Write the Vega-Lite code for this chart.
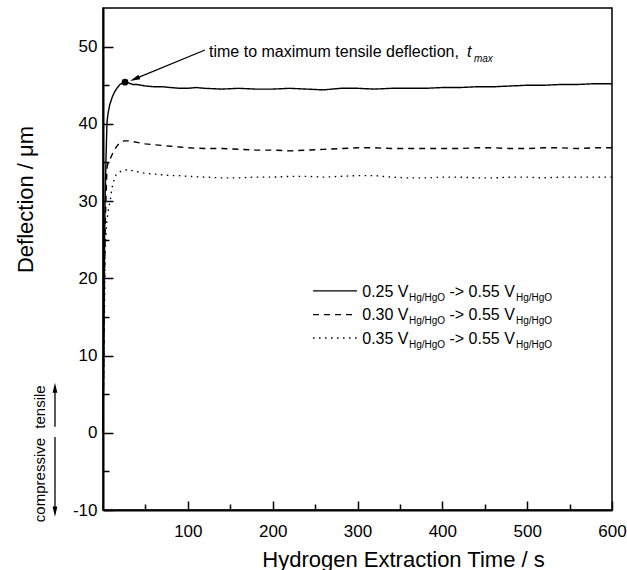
{
  "$schema": "https://vega.github.io/schema/vega-lite/v6.json",
  "width": 509,
  "height": 502,
  "autosize": {"type": "none"},
  "padding": {"left": 103, "top": 8, "right": 15, "bottom": 60},
  "background": "white",
  "config": {
    "view": {"stroke": "black", "strokeWidth": 1.5},
    "font": "Liberation Sans",
    "axis": {"grid": false, "domainColor": "black", "tickColor": "black", "labelColor": "black", "titleColor": "black", "labelFont": "Liberation Sans", "titleFont": "Liberation Sans"}
  },
  "datasets": {
    "curves": [
      {"series": "0.25", "t": 0, "v": 0}, {"series": "0.25", "t": 1, "v": 13}, {"series": "0.25", "t": 2, "v": 26}, {"series": "0.25", "t": 2.5, "v": 30.2}, {"series": "0.25", "t": 3.5, "v": 35.4}, {"series": "0.25", "t": 4.7, "v": 40.2}, {"series": "0.25", "t": 6, "v": 41.4}, {"series": "0.25", "t": 8, "v": 42.5}, {"series": "0.25", "t": 11, "v": 43.5}, {"series": "0.25", "t": 14, "v": 44.2}, {"series": "0.25", "t": 17, "v": 44.7}, {"series": "0.25", "t": 20, "v": 45.1}, {"series": "0.25", "t": 23, "v": 45.3}, {"series": "0.25", "t": 26, "v": 45.4}, {"series": "0.25", "t": 30, "v": 45.3}, {"series": "0.25", "t": 35, "v": 45.1}, {"series": "0.25", "t": 40, "v": 45.1}, {"series": "0.25", "t": 45, "v": 45.0}, {"series": "0.25", "t": 50, "v": 44.9}, {"series": "0.25", "t": 60, "v": 44.8}, {"series": "0.25", "t": 70, "v": 44.8}, {"series": "0.25", "t": 80, "v": 44.7}, {"series": "0.25", "t": 90, "v": 44.6}, {"series": "0.25", "t": 100, "v": 44.6}, {"series": "0.25", "t": 110, "v": 44.7}, {"series": "0.25", "t": 120, "v": 44.6}, {"series": "0.25", "t": 140, "v": 44.5}, {"series": "0.25", "t": 160, "v": 44.6}, {"series": "0.25", "t": 180, "v": 44.5}, {"series": "0.25", "t": 200, "v": 44.5}, {"series": "0.25", "t": 220, "v": 44.6}, {"series": "0.25", "t": 240, "v": 44.5}, {"series": "0.25", "t": 260, "v": 44.4}, {"series": "0.25", "t": 280, "v": 44.6}, {"series": "0.25", "t": 300, "v": 44.6}, {"series": "0.25", "t": 320, "v": 44.5}, {"series": "0.25", "t": 340, "v": 44.6}, {"series": "0.25", "t": 360, "v": 44.6}, {"series": "0.25", "t": 380, "v": 44.6}, {"series": "0.25", "t": 400, "v": 44.7}, {"series": "0.25", "t": 420, "v": 44.7}, {"series": "0.25", "t": 440, "v": 44.8}, {"series": "0.25", "t": 460, "v": 44.8}, {"series": "0.25", "t": 480, "v": 44.9}, {"series": "0.25", "t": 500, "v": 45.0}, {"series": "0.25", "t": 520, "v": 45.0}, {"series": "0.25", "t": 540, "v": 45.1}, {"series": "0.25", "t": 560, "v": 45.1}, {"series": "0.25", "t": 580, "v": 45.2}, {"series": "0.25", "t": 600, "v": 45.2},
      {"series": "0.30", "t": 0, "v": 0}, {"series": "0.30", "t": 1, "v": 11}, {"series": "0.30", "t": 2, "v": 22}, {"series": "0.30", "t": 3, "v": 28.5}, {"series": "0.30", "t": 4, "v": 32}, {"series": "0.30", "t": 4.7, "v": 34.3}, {"series": "0.30", "t": 6, "v": 35}, {"series": "0.30", "t": 8.3, "v": 35.4}, {"series": "0.30", "t": 11, "v": 36.1}, {"series": "0.30", "t": 14, "v": 36.7}, {"series": "0.30", "t": 17, "v": 37.2}, {"series": "0.30", "t": 20, "v": 37.6}, {"series": "0.30", "t": 25, "v": 37.8}, {"series": "0.30", "t": 30, "v": 37.8}, {"series": "0.30", "t": 35, "v": 37.7}, {"series": "0.30", "t": 40, "v": 37.6}, {"series": "0.30", "t": 50, "v": 37.4}, {"series": "0.30", "t": 60, "v": 37.3}, {"series": "0.30", "t": 70, "v": 37.2}, {"series": "0.30", "t": 80, "v": 37.1}, {"series": "0.30", "t": 90, "v": 37.0}, {"series": "0.30", "t": 100, "v": 36.9}, {"series": "0.30", "t": 120, "v": 36.8}, {"series": "0.30", "t": 140, "v": 36.8}, {"series": "0.30", "t": 160, "v": 36.7}, {"series": "0.30", "t": 180, "v": 36.6}, {"series": "0.30", "t": 200, "v": 36.6}, {"series": "0.30", "t": 220, "v": 36.5}, {"series": "0.30", "t": 240, "v": 36.6}, {"series": "0.30", "t": 260, "v": 36.7}, {"series": "0.30", "t": 280, "v": 36.8}, {"series": "0.30", "t": 300, "v": 36.9}, {"series": "0.30", "t": 320, "v": 36.9}, {"series": "0.30", "t": 340, "v": 36.8}, {"series": "0.30", "t": 360, "v": 36.8}, {"series": "0.30", "t": 380, "v": 36.8}, {"series": "0.30", "t": 400, "v": 36.8}, {"series": "0.30", "t": 420, "v": 36.8}, {"series": "0.30", "t": 440, "v": 36.9}, {"series": "0.30", "t": 460, "v": 36.9}, {"series": "0.30", "t": 480, "v": 36.8}, {"series": "0.30", "t": 500, "v": 36.8}, {"series": "0.30", "t": 520, "v": 36.9}, {"series": "0.30", "t": 540, "v": 36.9}, {"series": "0.30", "t": 560, "v": 36.8}, {"series": "0.30", "t": 580, "v": 36.9}, {"series": "0.30", "t": 600, "v": 36.9},
      {"series": "0.35", "t": 0, "v": 0}, {"series": "0.35", "t": 1, "v": 9}, {"series": "0.35", "t": 2, "v": 18}, {"series": "0.35", "t": 2.4, "v": 23.3}, {"series": "0.35", "t": 3.5, "v": 25.5}, {"series": "0.35", "t": 4.7, "v": 27.6}, {"series": "0.35", "t": 6.5, "v": 29}, {"series": "0.35", "t": 8.3, "v": 29.9}, {"series": "0.35", "t": 10.6, "v": 31.7}, {"series": "0.35", "t": 14, "v": 33.2}, {"series": "0.35", "t": 17, "v": 33.6}, {"series": "0.35", "t": 20, "v": 33.8}, {"series": "0.35", "t": 25, "v": 34.0}, {"series": "0.35", "t": 30, "v": 34.1}, {"series": "0.35", "t": 35, "v": 33.9}, {"series": "0.35", "t": 40, "v": 33.8}, {"series": "0.35", "t": 50, "v": 33.6}, {"series": "0.35", "t": 60, "v": 33.5}, {"series": "0.35", "t": 70, "v": 33.4}, {"series": "0.35", "t": 80, "v": 33.3}, {"series": "0.35", "t": 90, "v": 33.3}, {"series": "0.35", "t": 100, "v": 33.2}, {"series": "0.35", "t": 120, "v": 33.1}, {"series": "0.35", "t": 140, "v": 33.0}, {"series": "0.35", "t": 160, "v": 33.0}, {"series": "0.35", "t": 180, "v": 33.1}, {"series": "0.35", "t": 200, "v": 33.1}, {"series": "0.35", "t": 220, "v": 33.2}, {"series": "0.35", "t": 240, "v": 33.2}, {"series": "0.35", "t": 260, "v": 33.1}, {"series": "0.35", "t": 280, "v": 33.2}, {"series": "0.35", "t": 300, "v": 33.3}, {"series": "0.35", "t": 320, "v": 33.3}, {"series": "0.35", "t": 340, "v": 33.1}, {"series": "0.35", "t": 360, "v": 33.0}, {"series": "0.35", "t": 380, "v": 33.0}, {"series": "0.35", "t": 400, "v": 33.1}, {"series": "0.35", "t": 420, "v": 33.1}, {"series": "0.35", "t": 440, "v": 33.0}, {"series": "0.35", "t": 460, "v": 33.0}, {"series": "0.35", "t": 480, "v": 33.1}, {"series": "0.35", "t": 500, "v": 33.1}, {"series": "0.35", "t": 520, "v": 33.0}, {"series": "0.35", "t": 540, "v": 33.1}, {"series": "0.35", "t": 560, "v": 33.1}, {"series": "0.35", "t": 580, "v": 33.1}, {"series": "0.35", "t": 600, "v": 33.1}
    ]
  },
  "resolve": {"axis": {"x": "independent", "y": "independent"}},
  "layer": [
    {
      "data": {"name": "curves"},
      "mark": {"type": "line", "color": "black", "strokeWidth": 1.4, "clip": false},
      "encoding": {
        "x": {"field": "t", "type": "quantitative", "scale": {"domain": [0, 600], "nice": false, "zero": false},
          "axis": {"orient": "bottom", "values": [100, 200, 300, 400, 500, 600], "tickSize": -9, "tickWidth": 1.5, "domainWidth": 2, "labelPadding": 22, "labelFontSize": 17, "labelFlush": false, "labelBaseline": "top",
            "title": "Hydrogen Extraction Time / s", "titleFontSize": 22, "titleFontWeight": "normal", "titleX": 300, "titleY": 56, "titleAlign": "center", "titleBaseline": "alphabetic"}},
        "y": {"field": "v", "type": "quantitative", "scale": {"domain": [-10, 55], "nice": false, "zero": false},
          "axis": {"orient": "left", "values": [-10, 0, 10, 20, 30, 40, 50], "tickSize": -10, "tickWidth": 1.5, "domainWidth": 2, "labelPadding": 16, "labelFontSize": 17, "labelExpr": "'' + datum.value",
            "title": "Deflection / μm", "titleFontSize": 22, "titleFontWeight": "normal", "titleX": -78, "titleY": 191, "titleAngle": 270, "titleAlign": "center", "titleBaseline": "middle"}},
        "strokeDash": {"field": "series", "type": "nominal", "scale": {"domain": ["0.25", "0.30", "0.35"], "range": [[1, 0], [6, 5], [1.5, 4.5]]}, "legend": null},
        "order": {"field": "t", "type": "quantitative"}
      }
    },
    {
      "data": {"name": "curves"},
      "transform": [{"filter": "datum.series === '0.25' && datum.t === 26"}],
      "mark": {"type": "point", "filled": true, "color": "black", "opacity": 1, "size": 45},
      "encoding": {
        "x": {"field": "t", "type": "quantitative", "axis": {"orient": "bottom", "values": [50, 150, 250, 350, 450, 550], "labels": false, "domain": false, "tickSize": -6, "tickWidth": 1.5, "title": null}},
        "y": {"field": "v", "type": "quantitative", "axis": {"orient": "left", "values": [-5, 5, 15, 25, 35, 45], "labels": false, "domain": false, "tickSize": -6, "tickWidth": 1.5, "title": null}}
      }
    },
    {
      "data": {"values": [{}]},
      "mark": {"type": "rule", "color": "black", "strokeWidth": 1.3},
      "encoding": {
        "x": {"datum": 120.2, "type": "quantitative", "axis": null}, "y": {"datum": 49.56, "type": "quantitative", "axis": null},
        "x2": {"datum": 38.3}, "y2": {"datum": 45.85}
      }
    },
    {
      "data": {"values": [{}]},
      "mark": {"type": "point", "shape": "M0,-1L0.4,0.7L-0.4,0.7Z", "filled": true, "color": "black", "opacity": 1, "size": 144, "angle": 247.5},
      "encoding": {"x": {"datum": 38.3, "type": "quantitative", "axis": null}, "y": {"datum": 45.85, "type": "quantitative", "axis": null}}
    },
    {
      "data": {"values": [{}]},
      "mark": {"type": "text", "text": "time to maximum tensile deflection,", "align": "left", "baseline": "alphabetic", "fontSize": 16, "color": "black"},
      "encoding": {"x": {"datum": 125, "type": "quantitative", "axis": null}, "y": {"datum": 48.69, "type": "quantitative", "axis": null}}
    },
    {
      "data": {"values": [{}]},
      "mark": {"type": "text", "text": "t", "align": "left", "baseline": "alphabetic", "fontSize": 16, "fontStyle": "italic", "color": "black"},
      "encoding": {"x": {"datum": 429.1, "type": "quantitative", "axis": null}, "y": {"datum": 48.69, "type": "quantitative", "axis": null}}
    },
    {
      "data": {"values": [{}]},
      "mark": {"type": "text", "text": "max", "align": "left", "baseline": "alphabetic", "fontSize": 10, "fontStyle": "italic", "color": "black"},
      "encoding": {"x": {"datum": 437.3, "type": "quantitative", "axis": null}, "y": {"datum": 48.05, "type": "quantitative", "axis": null}}
    },
    {
      "data": {"values": [{}]},
      "mark": {"type": "rule", "color": "black", "strokeWidth": 1.3},
      "encoding": {"x": {"datum": 247.6, "type": "quantitative", "axis": null}, "x2": {"datum": 299.4}, "y": {"datum": 18.36, "type": "quantitative", "axis": null}}
    },
    {
      "data": {"values": [{}]},
      "mark": {"type": "rule", "color": "black", "strokeWidth": 1.3, "strokeDash": [6, 5]},
      "encoding": {"x": {"datum": 247.6, "type": "quantitative", "axis": null}, "x2": {"datum": 299.4}, "y": {"datum": 15.31, "type": "quantitative", "axis": null}}
    },
    {
      "data": {"values": [{}]},
      "mark": {"type": "rule", "color": "black", "strokeWidth": 1.3, "strokeDash": [1.5, 4.5]},
      "encoding": {"x": {"datum": 247.6, "type": "quantitative", "axis": null}, "x2": {"datum": 299.4}, "y": {"datum": 12.27, "type": "quantitative", "axis": null}}
    },
    {
      "data": {"values": [{}]},
      "mark": {"type": "text", "text": ["0.25 V", "0.30 V", "0.35 V"], "lineHeight": 23.6, "align": "left", "baseline": "alphabetic", "fontSize": 16, "color": "black"},
      "encoding": {"x": {"datum": 305.6, "type": "quantitative", "axis": null}, "y": {"datum": 17.62, "type": "quantitative", "axis": null}}
    },
    {
      "data": {"values": [{}]},
      "mark": {"type": "text", "text": ["Hg/HgO", "Hg/HgO", "Hg/HgO"], "lineHeight": 23.6, "align": "left", "baseline": "alphabetic", "fontSize": 10, "color": "black"},
      "encoding": {"x": {"datum": 360.7, "type": "quantitative", "axis": null}, "y": {"datum": 17.10, "type": "quantitative", "axis": null}}
    },
    {
      "data": {"values": [{}]},
      "mark": {"type": "text", "text": ["-> 0.55 V", "-> 0.55 V", "-> 0.55 V"], "lineHeight": 23.6, "align": "left", "baseline": "alphabetic", "fontSize": 16, "color": "black"},
      "encoding": {"x": {"datum": 408.4, "type": "quantitative", "axis": null}, "y": {"datum": 17.62, "type": "quantitative", "axis": null}}
    },
    {
      "data": {"values": [{}]},
      "mark": {"type": "text", "text": ["Hg/HgO", "Hg/HgO", "Hg/HgO"], "lineHeight": 23.6, "align": "left", "baseline": "alphabetic", "fontSize": 10, "color": "black"},
      "encoding": {"x": {"datum": 486.8, "type": "quantitative", "axis": null}, "y": {"datum": 17.10, "type": "quantitative", "axis": null}}
    },
    {
      "data": {"values": [{}]},
      "mark": {"type": "text", "text": "tensile", "angle": 270, "align": "center", "baseline": "middle", "fontSize": 15, "color": "black"},
      "encoding": {"x": {"datum": -74.3, "type": "quantitative", "axis": null}, "y": {"datum": 3.34, "type": "quantitative", "axis": null}}
    },
    {
      "data": {"values": [{}]},
      "mark": {"type": "text", "text": "compressive", "angle": 270, "align": "center", "baseline": "middle", "fontSize": 15, "color": "black"},
      "encoding": {"x": {"datum": -74.3, "type": "quantitative", "axis": null}, "y": {"datum": -6.12, "type": "quantitative", "axis": null}}
    },
    {
      "data": {"values": [{}]},
      "mark": {"type": "rule", "color": "black", "strokeWidth": 1.3},
      "encoding": {"x": {"datum": -56.6, "type": "quantitative", "axis": null}, "y": {"datum": 0.79, "type": "quantitative", "axis": null}, "y2": {"datum": 5.71}}
    },
    {
      "data": {"values": [{}]},
      "mark": {"type": "rule", "color": "black", "strokeWidth": 1.3},
      "encoding": {"x": {"datum": -56.6, "type": "quantitative", "axis": null}, "y": {"datum": -0.55, "type": "quantitative", "axis": null}, "y2": {"datum": -10.09}}
    },
    {
      "data": {"values": [{}]},
      "mark": {"type": "point", "shape": "M0,-1L0.4,0.7L-0.4,0.7Z", "filled": true, "color": "black", "opacity": 1, "size": 144, "angle": 0},
      "encoding": {"x": {"datum": -56.6, "type": "quantitative", "axis": null}, "y": {"datum": 5.71, "type": "quantitative", "axis": null}}
    },
    {
      "data": {"values": [{}]},
      "mark": {"type": "point", "shape": "M0,-1L0.4,0.7L-0.4,0.7Z", "filled": true, "color": "black", "opacity": 1, "size": 144, "angle": 180},
      "encoding": {"x": {"datum": -56.6, "type": "quantitative", "axis": null}, "y": {"datum": -10.09, "type": "quantitative", "axis": null}}
    }
  ]
}
